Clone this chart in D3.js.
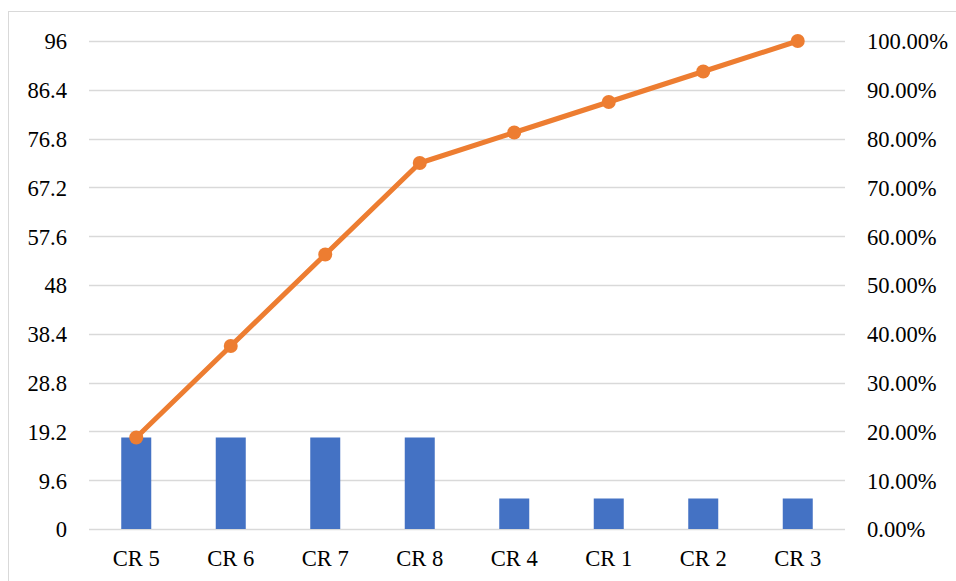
<!DOCTYPE html>
<html>
<head>
<meta charset="utf-8">
<script src="https://cdn.jsdelivr.net/npm/d3@7"></script>
<style>
  html, body { margin: 0; padding: 0; background: #fff; }
  svg { display: block; }
</style>
</head>
<body>
<svg id="chart" width="956" height="581"></svg>
<script>
// Pareto data: defect counts per category, sorted descending
const categories = ["CR 5", "CR 6", "CR 7", "CR 8", "CR 4", "CR 1", "CR 2", "CR 3"];
const counts = [18, 18, 18, 18, 6, 6, 6, 6];
const leftTicks = [0, 9.6, 19.2, 28.8, 38.4, 48, 57.6, 67.2, 76.8, 86.4, 96];
const rightTicks = [0, 0.1, 0.2, 0.3, 0.4, 0.5, 0.6, 0.7, 0.8, 0.9, 1.0];

const total = d3.sum(counts);
const cumulative = d3.cumsum(counts).map(v => v / total);

const svg = d3.select("#chart");
const m = { left: 89, right: 845, top: 41, bottom: 529 };
const font = "'Liberation Serif', 'Times New Roman', serif";
const fontSize = 22.6;

// outer chart frame
svg.append("rect")
  .attr("x", 8.5).attr("y", 11.5)
  .attr("width", 960).attr("height", 600)
  .attr("fill", "#fff").attr("stroke", "#d9d9d9").attr("stroke-width", 1);

const x = d3.scaleBand().domain(categories).range([m.left, m.right]).paddingInner(0).paddingOuter(0);
const yL = d3.scaleLinear().domain([0, 96]).range([m.bottom, m.top]);
const yR = d3.scaleLinear().domain([0, 1]).range([m.bottom, m.top]);

// horizontal gridlines
svg.append("g").selectAll("line").data(leftTicks).join("line")
  .attr("x1", m.left).attr("x2", m.right)
  .attr("y1", d => Math.round(yL(d)) + 0.5).attr("y2", d => Math.round(yL(d)) + 0.5)
  .attr("stroke", "#d9d9d9").attr("stroke-width", 1.3);

// left axis labels
const leftAxis = d3.axisLeft(yL).tickValues(leftTicks).tickSize(0).tickPadding(0)
  .tickFormat(d => String(d));
const gl = svg.append("g").attr("transform", `translate(67,0)`).call(leftAxis);
gl.select(".domain").remove();
gl.selectAll("text").attr("font-family", font).attr("font-size", fontSize).attr("fill", "#000")
  .attr("dy", "0.35em");

// right axis labels
const rightAxis = d3.axisRight(yR).tickValues(rightTicks).tickSize(0).tickPadding(0)
  .tickFormat(d => (d * 100).toFixed(2) + "%");
const gr = svg.append("g").attr("transform", `translate(867,0)`).call(rightAxis);
gr.select(".domain").remove();
gr.selectAll("text").attr("font-family", font).attr("font-size", fontSize).attr("fill", "#000")
  .attr("dy", "0.35em");

// bottom category labels
const bottomAxis = d3.axisBottom(x).tickSize(0).tickPadding(0);
const gb = svg.append("g").attr("transform", `translate(0,${m.bottom})`).call(bottomAxis);
gb.select(".domain").remove();
gb.selectAll("text").attr("font-family", font).attr("font-size", fontSize).attr("fill", "#000")
  .attr("dy", "0").attr("y", 37);

// bars
const barW = 30;
svg.append("g").selectAll("rect").data(counts).join("rect")
  .attr("x", (d, i) => x(categories[i]) + x.bandwidth() / 2 - barW / 2)
  .attr("width", barW)
  .attr("y", d => yL(d))
  .attr("height", d => yL(0) - yL(d))
  .attr("fill", "#4472C4");

// cumulative percentage line
const cx = (d, i) => x(categories[i]) + x.bandwidth() / 2;
svg.append("path").datum(cumulative)
  .attr("fill", "none").attr("stroke", "#ED7D31").attr("stroke-width", 5)
  .attr("stroke-linejoin", "round")
  .attr("d", d3.line().x(cx).y(d => yR(d)));

svg.append("g").selectAll("circle").data(cumulative).join("circle")
  .attr("cx", cx).attr("cy", d => yR(d)).attr("r", 7)
  .attr("fill", "#ED7D31");
</script>
</body>
</html>
